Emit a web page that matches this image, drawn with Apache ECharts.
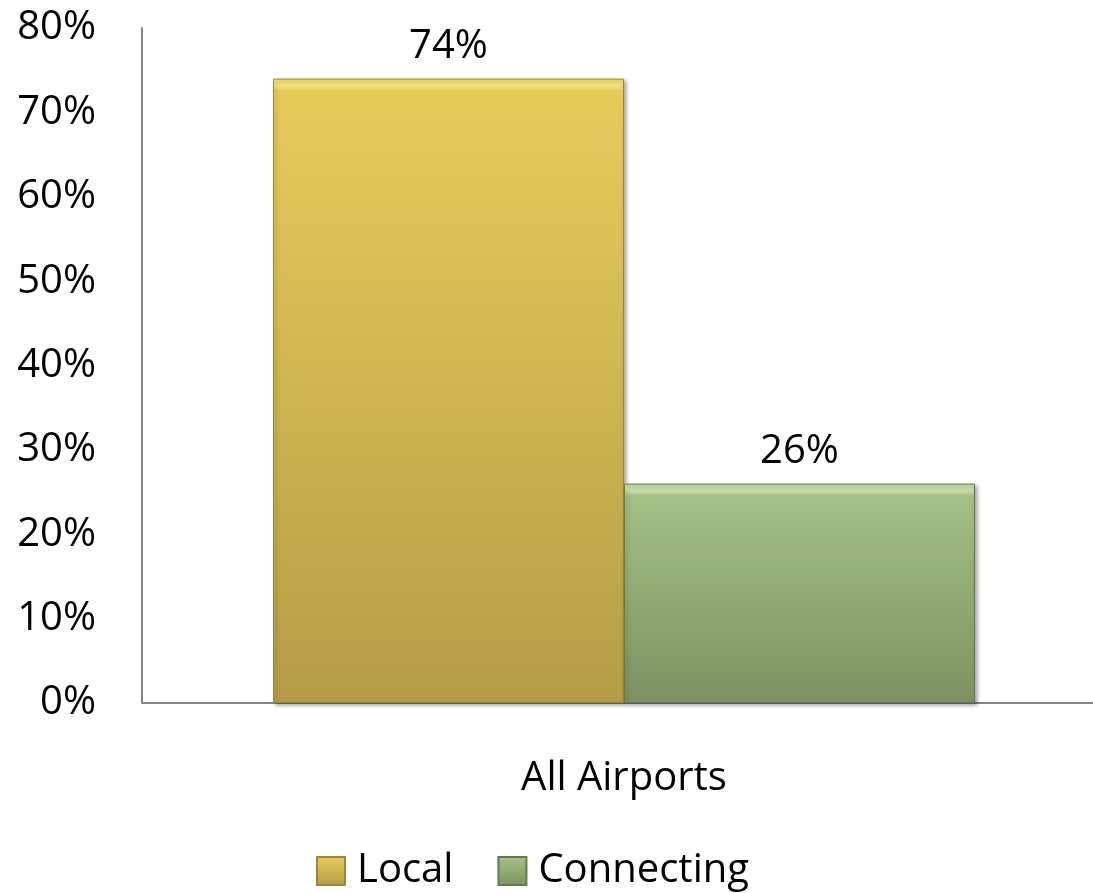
<!DOCTYPE html>
<html>
<head>
<meta charset="utf-8">
<script src="https://cdn.jsdelivr.net/npm/echarts@6/dist/echarts.min.js"></script>
<style>
html,body{margin:0;padding:0;background:#fff;}
#c{width:1093px;height:893px;}
</style>
</head>
<body>
<div id="c"></div>
<script>
const categories = ["All Airports"];
const seriesNames = ["Local", "Connecting"];
const localValues = [74];
const connectingValues = [26];
const yTicks = [0, 10, 20, 30, 40, 50, 60, 70, 80];

const FONT = "Open Sans";
const grad = (hi, top, bottom, edge) => new echarts.graphic.LinearGradient(0, 0, 0, 1, [
  {offset: 0, color: hi}, {offset: edge, color: hi}, {offset: edge * 1.6, color: top}, {offset: 1, color: bottom}
]);

const chart = echarts.init(document.getElementById('c'), null, {renderer: 'canvas'});
chart.setOption({
  animation: false,
  textStyle: {fontFamily: FONT},
  grid: {left: 142, right: -13, top: 28, bottom: 190, outerBoundsMode: 'none', containLabel: false},
  legend: {
    data: seriesNames,
    top: 851,
    left: 316,
    padding: 0,
    itemWidth: 28,
    itemHeight: 28,
    itemGap: 44,
    icon: 'rect',
    textStyle: {fontFamily: FONT, fontSize: 40, color: '#000', padding: [0, 0, 0, 7]}
  },
  xAxis: {
    type: 'category',
    data: categories,
    axisLine: {lineStyle: {color: '#868686', width: 2}},
    axisTick: {show: false},
    axisLabel: {fontFamily: FONT, fontSize: 40, color: '#000', margin: 56}
  },
  yAxis: {
    type: 'value',
    min: yTicks[0],
    max: yTicks[yTicks.length - 1],
    interval: 10,
    axisLine: {show: true, lineStyle: {color: '#868686', width: 2}},
    axisTick: {show: false},
    splitLine: {show: false},
    axisLabel: {fontFamily: FONT, fontSize: 40, color: '#000', margin: 46, formatter: v => v + '%'}
  },
  series: [
    {
      name: seriesNames[0],
      type: 'bar',
      data: localValues,
      barWidth: 351,
      barGap: '0%',
      itemStyle: {
        color: grad('#F7E27A', '#E6CC5A', '#B59D47', 0.012),
        borderColor: '#9C8836',
        borderWidth: 1,
        shadowColor: 'rgba(0,0,0,0.35)',
        shadowBlur: 4,
        shadowOffsetX: 2,
        shadowOffsetY: 2
      },
      label: {show: true, position: 'top', distance: 12, fontFamily: FONT, fontSize: 40, color: '#000', formatter: p => p.value + '%'}
    },
    {
      name: seriesNames[1],
      type: 'bar',
      data: connectingValues,
      barWidth: 351,
      barGap: '0%',
      itemStyle: {
        color: grad('#C4E0A8', '#A3C085', '#7D9262', 0.035),
        borderColor: '#66784F',
        borderWidth: 1,
        shadowColor: 'rgba(0,0,0,0.35)',
        shadowBlur: 4,
        shadowOffsetX: 2,
        shadowOffsetY: 2
      },
      label: {show: true, position: 'top', distance: 12, fontFamily: FONT, fontSize: 40, color: '#000', formatter: p => p.value + '%'}
    }
  ]
});
</script>
</body>
</html>
